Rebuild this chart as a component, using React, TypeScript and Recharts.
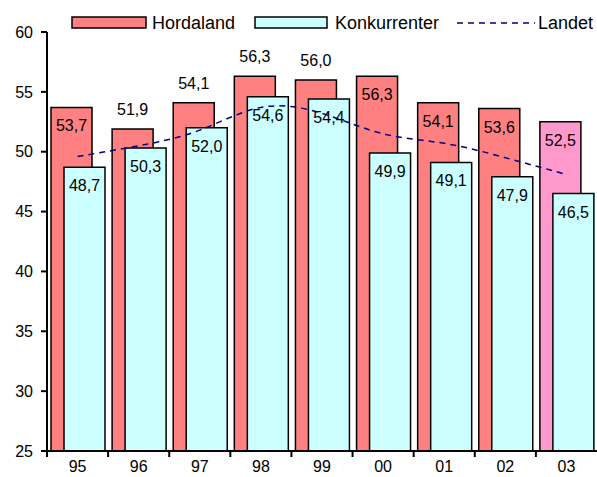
import React from 'react';
import { ComposedChart, Bar, Line, XAxis, YAxis, LabelList, Cell } from 'recharts';

const categories = ['95', '96', '97', '98', '99', '00', '01', '02', '03'];
const hordaland = [53.7, 51.9, 54.1, 56.3, 56.0, 56.3, 54.1, 53.6, 52.5];
const konkurrenter = [48.7, 50.3, 52.0, 54.6, 54.4, 49.9, 49.1, 47.9, 46.5];
const landet = [49.6, 50.5, 51.8, 53.7, 53.2, 51.5, 50.7, 49.5, 48.1];
const hordalandColors = ['#FF8080', '#FF8080', '#FF8080', '#FF8080', '#FF8080', '#FF8080', '#FF8080', '#FF8080', '#FF99CC'];
const hordalandLabelAbove = [false, true, true, true, true, false, false, false, false];
const yTicks = [25, 30, 35, 40, 45, 50, 55, 60];

const data = categories.map((c, i) => ({
  year: c,
  hordaland: hordaland[i],
  konkurrenter: konkurrenter[i],
  landet: landet[i],
}));

const FONT = '"Liberation Sans", Arial, sans-serif';
const fmt = (v: number) => Number(v).toFixed(1).replace('.', ',');

const HordLabel = (props: any) => {
  const { x, y, width, value, index } = props;
  const ty = hordalandLabelAbove[index] ? y - 14 : y + 24;
  return (
    <text x={x + width / 2} y={ty} textAnchor="middle" fontSize={16} fontFamily={FONT} fill="#000">
      {fmt(value)}
    </text>
  );
};

const KonkLabel = (props: any) => {
  const { x, y, width, value } = props;
  return (
    <text x={x + width / 2} y={y + 24} textAnchor="middle" fontSize={16} fontFamily={FONT} fill="#000">
      {fmt(value)}
    </text>
  );
};

const BAND = 550 / categories.length;

const XTick = (props: any) => {
  const { x, y, payload } = props;
  return (
    <g>
      <line x1={x - BAND / 2} x2={x - BAND / 2} y1={y} y2={y + 6} stroke="#000" strokeWidth={2} />
      <text x={x} y={y + 21} textAnchor="middle" fontSize={16} fontFamily={FONT} fill="#000">
        {payload.value}
      </text>
    </g>
  );
};

const Legend = () => (
  <div style={{ position: 'absolute', left: 0, top: 0, width: 597, height: 40, pointerEvents: 'none' }}>
    <svg width={597} height={40}>
      <rect x={72} y={17} width={74} height={11} fill="#FF8080" stroke="#000" strokeWidth={1.5} />
      <text x={152} y={29} fontSize={18} fontFamily={FONT} fill="#000">Hordaland</text>
      <rect x={255} y={17} width={72} height={11} fill="#CCFFFF" stroke="#000" strokeWidth={1.5} />
      <text x={335} y={29} fontSize={18} fontFamily={FONT} fill="#000">Konkurrenter</text>
      <line x1={457} x2={535} y1={23} y2={23} stroke="#000080" strokeWidth={1.5} strokeDasharray="6 5" />
      <text x={538} y={29} fontSize={18} fontFamily={FONT} fill="#000">Landet</text>
    </svg>
  </div>
);

export default function App() {
  return (
    <div style={{ position: 'relative', width: 597, height: 477, background: '#fff' }}>
      <style>{`body{margin:0;overflow:hidden;}`}</style>
      <ComposedChart
        width={597}
        height={477}
        data={data}
        margin={{ top: 32, right: 0, bottom: 0, left: 0 }}
        barSize={41}
        barGap={-28}
      >
        <XAxis
          dataKey="year"
          height={26}
          axisLine={{ stroke: '#000', strokeWidth: 2 }}
          tickLine={false}
          tickSize={0}
          tickMargin={0}
          tick={<XTick />}
          interval={0}
        />
        <YAxis
          width={47}
          domain={[25, 60]}
          ticks={yTicks}
          allowDataOverflow
          axisLine={{ stroke: '#000', strokeWidth: 2 }}
          tickLine={{ stroke: '#000', strokeWidth: 2 }}
          tickSize={6}
          tickMargin={8}
          tick={{ fontSize: 16, fontFamily: FONT, fill: '#000' }}
        />
        <Bar dataKey="hordaland" name="Hordaland" fill="#FF8080" stroke="#000" strokeWidth={1.5} isAnimationActive={false}>
          {data.map((d, i) => (
            <Cell key={d.year} fill={hordalandColors[i]} />
          ))}
          <LabelList dataKey="hordaland" content={<HordLabel />} />
        </Bar>
        <Bar dataKey="konkurrenter" name="Konkurrenter" fill="#CCFFFF" stroke="#000" strokeWidth={1.5} isAnimationActive={false}>
          <LabelList dataKey="konkurrenter" content={<KonkLabel />} />
        </Bar>
        <Line
          dataKey="landet"
          name="Landet"
          type="natural"
          stroke="#000080"
          strokeWidth={1.5}
          strokeDasharray="6 5"
          dot={false}
          activeDot={false}
          isAnimationActive={false}
        />
      </ComposedChart>
      <Legend />
    </div>
  );
}
